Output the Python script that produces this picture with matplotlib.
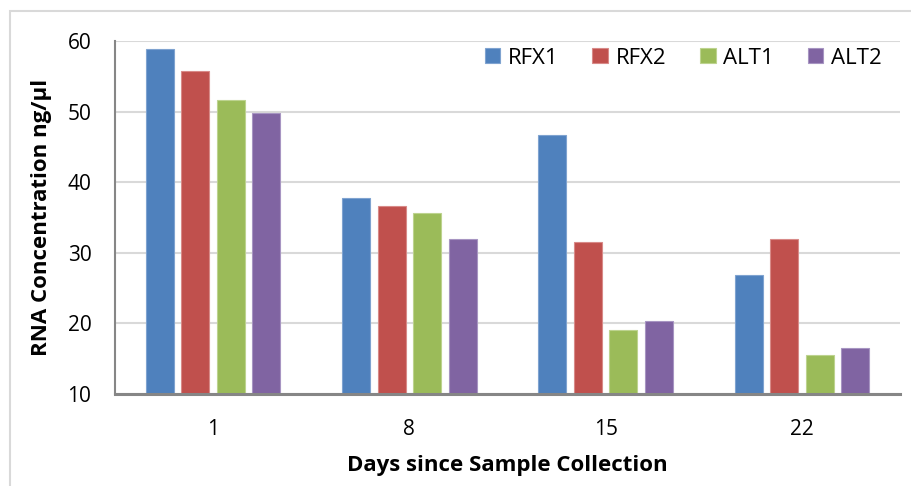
import numpy as np
import matplotlib
matplotlib.use('Agg')
import matplotlib.pyplot as plt
from matplotlib.patches import Rectangle

# Data
days = ['1', '8', '15', '22']
series_names = ['RFX1', 'RFX2', 'ALT1', 'ALT2']
rfx1 = [58.9, 37.8, 46.7, 26.8]
rfx2 = [55.8, 36.6, 31.5, 31.9]
alt1 = [51.7, 35.6, 19.0, 15.5]
alt2 = [49.8, 32.0, 20.4, 16.5]
colors = ['#4F81BD', '#C0504D', '#9BBB59', '#8064A2']
edges = ['#7FA3D0', '#D88A88', '#BDD38F', '#A795C2']

plt.rcParams['font.family'] = ['Open Sans', 'DejaVu Sans']

W, H = 912, 486
fig = plt.figure(figsize=(W / 100, H / 100), dpi=100)

# Outer chart border (Excel style, cut off at right/bottom)
fig.patches.append(Rectangle((10 / W, -0.05), 1.1, (H - 11) / H + 0.05,
                             transform=fig.transFigure, fill=False,
                             edgecolor='#D9D9D9', linewidth=1.5))

ax = fig.add_axes([115 / W, (H - 394) / H, 785 / W, 353 / H])

x = np.arange(len(days))
step = 0.181
width = 0.143
for i, (vals, c, e, name) in enumerate(zip([rfx1, rfx2, alt1, alt2], colors, edges, series_names)):
    heights = np.array(vals) - 10
    ax.bar(x + (i - 1.5) * step, heights, width, bottom=10, color=c,
           edgecolor=e, linewidth=0.8, label=name, zorder=3)

ax.set_xlim(-0.5, 3.5)
ax.set_ylim(10, 60)
ax.set_yticks(range(10, 61, 10))
ax.set_xticks(x)
ax.set_xticklabels(days)
ax.grid(axis='y', color='#D9D9D9', linewidth=1.5, zorder=0)
ax.set_axisbelow(True)

for s in ['top', 'right']:
    ax.spines[s].set_visible(False)
ax.spines['left'].set_color('#868686')
ax.spines['left'].set_linewidth(1.5)
ax.spines['bottom'].set_color('#868686')
ax.spines['bottom'].set_linewidth(2.2)
ax.spines['bottom'].set_zorder(4)
ax.tick_params(axis='both', length=0, labelsize=15)
ax.tick_params(axis='x', pad=18)
ax.tick_params(axis='y', pad=17)

ax.set_xlabel('Days since Sample Collection', fontsize=16, fontweight='bold', labelpad=11)
ax.set_ylabel('RNA Concentration ng/µl', fontsize=16, fontweight='bold', labelpad=11)

ax.legend(loc='center right', bbox_to_anchor=(1.0 - 18 / 785, 1 - 17 / 353), ncol=4,
          frameon=False, fontsize=16, handlelength=0.7, handleheight=0.7,
          handletextpad=0.35, columnspacing=1.52, borderpad=0, borderaxespad=0)

fig.savefig('out.png', dpi=100)
